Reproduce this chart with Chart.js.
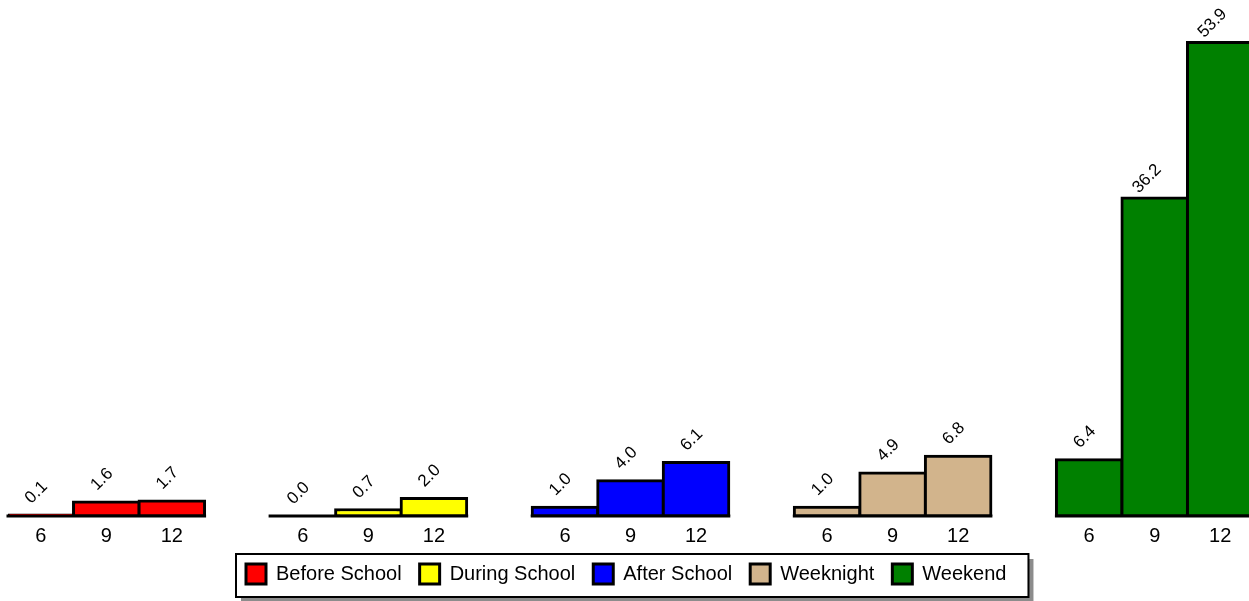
<!DOCTYPE html>
<html>
<head>
<meta charset="utf-8">
<script src="https://cdn.jsdelivr.net/npm/chart.js@4/dist/chart.umd.min.js"></script>
<style>
  html, body { margin: 0; padding: 0; background: #fff; overflow: hidden; }
  .wrap { position: relative; width: 1253px; height: 601px; }
</style>
</head>
<body>
<div class="wrap"><canvas id="myChart"></canvas></div>
<script>
const ages = ["6", "9", "12"];
const groupNames = ["Before School", "During School", "After School", "Weeknight", "Weekend"];
const beforeSchool = [0.1, 1.6, 1.7];
const duringSchool = [0.0, 0.7, 2.0];
const afterSchool = [1.0, 4.0, 6.1];
const weeknight = [1.0, 4.9, 6.8];
const weekend = [6.4, 36.2, 53.9];
const groupColors = ["#ff0000", "#ffff00", "#0000ff", "#d2b48c", "#008000"];

const allValues = [beforeSchool, duringSchool, afterSchool, weeknight, weekend];

// one empty category between groups makes the gap
let labels = [];
groupNames.forEach((g, i) => {
    if (i > 0) labels.push("");
    ages.forEach(a => labels.push(a));
});

const datasets = groupNames.map((name, i) => {
    let data = labels.map(() => null);
    allValues[i].forEach((v, j) => { data[i * 4 + j] = v; });
    return {
        label: name,
        data: data,
        backgroundColor: groupColors[i],
        borderColor: "#000",
        borderWidth: 3,
        inflateAmount: 1.5,
        borderSkipped: false,
        grouped: false,
        barPercentage: 1,
        categoryPercentage: 1
    };
});

const fontName = "'Liberation Sans', Arial, sans-serif";

const valueLabels = {
    id: "valueLabels",
    afterDatasetsDraw(chart) {
        const ctx = chart.ctx;
        const y0 = chart.scales.y.getPixelForValue(0);
        ctx.save();
        chart.data.datasets.forEach((ds, i) => {
            const meta = chart.getDatasetMeta(i);
            let left = Infinity, right = -Infinity;
            meta.data.forEach((bar, j) => {
                if (ds.data[j] === null) return;
                left = Math.min(left, bar.x - bar.width / 2);
                right = Math.max(right, bar.x + bar.width / 2);
            });
            // baseline under the group
            ctx.strokeStyle = "#000";
            ctx.lineWidth = 3;
            ctx.beginPath();
            ctx.moveTo(left - 1.5, y0);
            ctx.lineTo(right + 1.5, y0);
            ctx.stroke();

            meta.data.forEach((bar, j) => {
                const v = ds.data[j];
                if (v === null) return;
                ctx.save();
                ctx.translate(bar.x + 4, bar.y - 31);
                ctx.rotate(-Math.PI / 4);
                ctx.font = "17px " + fontName;
                ctx.fillStyle = "#000";
                ctx.textAlign = "right";
                ctx.textBaseline = "middle";
                ctx.fillText(v.toFixed(1), 0, 0);
                ctx.restore();
            });
        });
        ctx.restore();
    }
};

const legendFrame = {
    id: "legendFrame",
    afterUpdate(chart) {
        const legend = chart.legend;
        const hb = legend.legendHitBoxes;
        if (!hb.length) return;
        const dx = 246 - hb[0].left;
        legend.left += dx;
        legend.right += dx;
        hb.forEach(b => { b.left += dx; });
    },
    beforeDraw(chart) {
        const hb = chart.legend.legendHitBoxes;
        if (!hb.length) return;
        const last = hb[hb.length - 1];
        const x0 = hb[0].left - 10;
        const x1 = last.left + last.width + 22;
        const y0 = hb[0].top - 10;
        const y1 = hb[0].top + 20 + 13;
        const ctx = chart.ctx;
        ctx.save();
        ctx.fillStyle = "#8c8c8c";
        ctx.fillRect(x0 + 5, y0 + 5, x1 - x0, y1 - y0);
        ctx.fillStyle = "#fff";
        ctx.fillRect(x0, y0, x1 - x0, y1 - y0);
        ctx.strokeStyle = "#000";
        ctx.lineWidth = 2;
        ctx.strokeRect(x0, y0, x1 - x0, y1 - y0);
        ctx.restore();
    }
};

new Chart("myChart", {
    type: "bar",
    data: {
        labels: labels,
        datasets: datasets
    },
    options: {
        responsive: true,
        maintainAspectRatio: false,
        animation: false,
        layout: { padding: { left: 8, right: 0, top: 0, bottom: 7 } },
        scales: {
            x: {
                grid: { display: false, drawTicks: false },
                border: { display: false },
                ticks: {
                    color: "#000",
                    font: { family: fontName, size: 20 },
                    padding: 8,
                    autoSkip: false,
                    maxRotation: 0
                },
                afterFit(scale) { scale.height = 30; }
            },
            y: {
                display: false,
                min: 0,
                max: 58.74
            }
        },
        plugins: {
            tooltip: { enabled: false },
            legend: {
                position: "bottom",
                labels: {
                    boxWidth: 20,
                    boxHeight: 20,
                    padding: 18,
                    color: "#000",
                    font: { family: fontName, size: 20 }
                }
            }
        }
    },
    plugins: [valueLabels, legendFrame]
});
</script>
</body>
</html>
